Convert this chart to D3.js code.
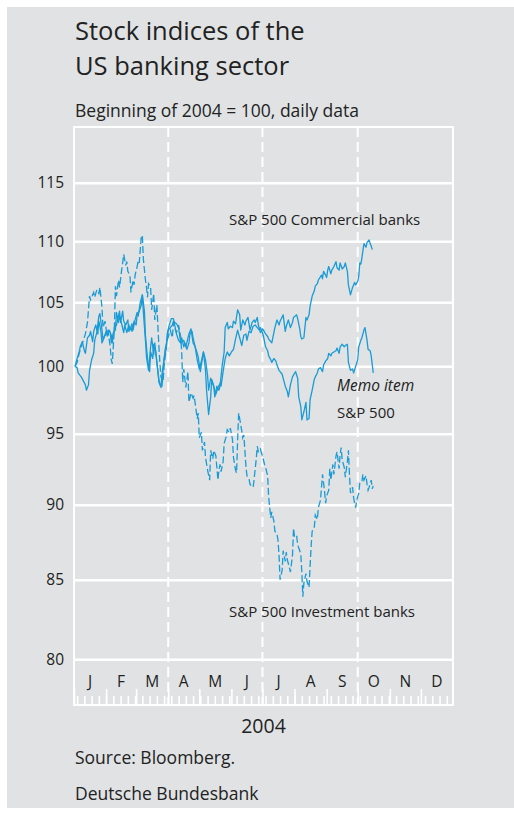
<!DOCTYPE html>
<html><head><meta charset="utf-8">
<script src="https://cdn.jsdelivr.net/npm/d3@7"></script>
<style>
body{margin:0;background:#fff}
svg{display:block}
text{font-family:"Open Sans",sans-serif;fill:#222}
</style>
</head><body>
<svg id="c" width="514" height="817"></svg>
<script>
// ---- data (Beginning of 2004 = 100) ----
const months = ["J","F","M","A","M","J","J","A","S","O","N","D"];
const yTicks = [80,85,90,95,100,105,110,115];
const quarterStarts = ["04-01","07-01","10-01"];

const commercialBanks = [
["01-02",100],["01-04",99.9],["01-05",99.5],["01-07",99.3],["01-08",99.2],["01-10",98.9],["01-12",98.6],["01-13",98.2],["01-15",98.6],["01-16",99.7],["01-18",100.5],["01-20",101],["01-21",102],["01-23",102.6],["01-25",103.9],["01-26",104.1],["01-28",102.8],["01-29",102.1],["01-31",102.4],
["02-02",102.6],["02-03",102.8],["02-05",102.6],["02-06",101.8],["02-08",102.6],["02-10",102.8],["02-11",104.2],["02-13",103.4],["02-14",103.9],["02-16",103.3],["02-18",102.6],["02-19",103.2],["02-21",102.6],["02-23",103.2],["02-24",102.8],["02-26",103.3],["02-27",102.8],["02-29",103.6],
["03-02",104.2],["03-03",103.9],["03-05",105],["03-07",105.6],["03-08",104.2],["03-10",102],["03-11",100.7],["03-13",99.7],["03-15",101.5],["03-16",102.2],["03-18",100.9],["03-19",101.8],["03-21",100.3],["03-23",99],["03-24",98.7],["03-26",98.5],["03-27",99.7],["03-29",101.3],["03-31",102],
["04-01",102.8],["04-03",103],["04-05",103.2],["04-06",103.5],["04-09",103.3],["04-11",103],["04-13",101.8],["04-14",102.2],["04-16",101.5],["04-17",101.8],["04-19",101.3],["04-21",101.8],["04-22",102.5],["04-24",102.7],["04-25",102.2],["04-27",101.5],["04-29",101],["04-30",100.7],
["05-02",99.6],["05-04",100.6],["05-05",101.1],["05-07",99.7],["05-08",98.2],["05-10",96.4],["05-12",97.7],["05-13",99],["05-15",98.5],["05-16",97.7],["05-18",98.5],["05-20",98.2],["05-21",98.5],["05-23",100],["05-25",101.1],["05-26",103],["05-28",103.4],["05-29",102.9],["05-31",103.1],
["06-02",103],["06-03",103.5],["06-05",103.3],["06-07",104.4],["06-09",104],["06-10",102.8],["06-12",103.6],["06-14",103.2],["06-15",103.5],["06-17",103.8],["06-18",103.3],["06-19",102.8],["06-21",103.4],["06-23",103.6],["06-24",103.4],["06-26",103.8],["06-27",103.2],["06-29",102.6],
["07-01",102.9],["07-02",102.8],["07-04",102.5],["07-06",102.3],["07-07",102.1],["07-09",101.9],["07-10",101.8],["07-13",103],["07-14",103.3],["07-15",103.6],["07-17",103.2],["07-18",103.5],["07-21",104],["07-23",102.7],["07-24",103.1],["07-26",103.6],["07-28",103],["07-30",103.4],["07-31",103.8],
["08-03",104],["08-04",103.7],["08-06",102.9],["08-07",102.3],["08-08",102.1],["08-10",102.2],["08-12",103.8],["08-13",103.6],["08-15",104],["08-16",104.7],["08-18",105.5],["08-20",105.9],["08-21",106.3],["08-23",106.5],["08-24",106.8],["08-27",107.2],["08-28",106.9],["08-29",107.5],["08-31",107.2],
["09-01",107],["09-02",107.6],["09-03",107.9],["09-05",107.3],["09-06",107.6],["09-08",107.9],["09-10",108.3],["09-11",107.8],["09-13",107.6],["09-14",108.2],["09-16",107.7],["09-18",107.9],["09-19",108.2],["09-21",107.5],["09-22",106.4],["09-24",105.6],["09-26",106.2],["09-27",106.4],["09-28",106.6],["09-29",106.4],
["10-01",106.7],["10-02",107.1],["10-03",108.2],["10-04",108.1],["10-05",108.6],["10-07",109.8],["10-09",109.5],["10-10",109.9],["10-12",110.1],["10-13",109.8],["10-14",109.6],["10-15",109.3]
];

const sp500 = [
["01-02",100],["01-04",100.6],["01-06",101.1],["01-07",101.5],["01-09",101.9],["01-11",101.2],["01-12",101],["01-14",102.2],["01-16",102.4],["01-17",102.7],["01-19",101.9],["01-20",102.7],["01-22",103.2],["01-24",102.5],["01-25",103.5],["01-27",102.7],["01-28",101.8],["01-30",102.2],
["02-01",102.7],["02-02",102.4],["02-04",102.8],["02-06",102.4],["02-07",101.8],["02-09",103],["02-11",103.2],["02-14",104.3],["02-15",103.4],["02-17",104.3],["02-18",103.5],["02-20",103.2],["02-22",103.6],["02-23",102.7],["02-25",103],["02-26",102.7],["02-28",103.5],
["03-01",103.2],["03-02",104],["03-04",104.3],["03-06",104.8],["03-07",105.6],["03-09",104.3],["03-10",102.4],["03-12",100.6],["03-14",99.6],["03-15",101.1],["03-17",100.6],["03-18",101.7],["03-20",101.1],["03-22",99.6],["03-23",98.8],["03-25",98.4],["03-26",99.4],["03-28",100.6],["03-30",101.4],["03-31",102.5],
["04-02",103.2],["04-04",103.7],["04-06",103.7],["04-09",102.5],["04-11",102],["04-13",101.8],["04-16",102],["04-18",101.5],["04-21",102.5],["04-23",102.9],["04-25",101.8],["04-27",101.5],["04-29",100.5],
["05-01",99.8],["05-03",100.4],["05-05",101.1],["05-07",100.5],["05-09",99.3],["05-10",98.2],["05-12",99.1],["05-14",98.7],["05-16",98.2],["05-17",97.9],["05-19",98.4],["05-21",98.7],["05-22",98.5],["05-24",99.6],["05-26",100.6],["05-28",101.1],["05-30",100.8],
["06-01",101.1],["06-03",101.3],["06-05",102.1],["06-07",102.8],["06-09",102.2],["06-11",101.6],["06-13",102.4],["06-15",102.5],["06-16",102],["06-18",102.7],["06-20",102.6],["06-22",103.1],["06-24",103.2],["06-26",103],["06-28",102.8],["06-29",103],
["07-01",102.6],["07-02",102.3],["07-04",101.5],["07-06",101.2],["07-07",100.8],["07-09",100.5],["07-10",100.3],["07-12",100.6],["07-14",100.4],["07-15",100.1],["07-17",99.7],["07-18",99.6],["07-20",99.4],["07-22",98.8],["07-23",98.5],["07-25",98.1],["07-26",97.7],["07-28",98.6],["07-29",98.9],["07-30",99.2],
["08-02",99.6],["08-04",99.1],["08-05",97.7],["08-07",97],["08-08",96],["08-10",96.6],["08-12",97.3],["08-13",96],["08-15",96.1],["08-16",97.5],["08-18",98.2],["08-20",99],["08-21",99.2],["08-23",99.5],["08-24",99.8],["08-26",99.9],["08-28",99.6],["08-29",100.1],["08-31",100.4],
["09-02",100.6],["09-03",101],["09-05",100.8],["09-06",101],["09-08",101.1],["09-10",101.2],["09-11",101.4],["09-13",101],["09-14",101.5],["09-16",101.7],["09-18",101.5],["09-19",101.6],["09-21",101.7],["09-22",100.3],["09-24",99.7],["09-26",99.8],["09-27",99.5],["09-29",100],
["10-01",100.5],["10-02",101.5],["10-04",102],["10-05",102.2],["10-07",102.8],["10-08",103],["10-10",102],["10-11",101.3],["10-13",101.2],["10-14",100.8],["10-16",99.5]
];

const investmentBanks = [
["01-02",100],["01-04",100.3],["01-06",101],["01-08",101.5],["01-10",102],["01-12",102.5],["01-14",103.4],["01-16",105.5],["01-17",105.2],["01-20",105.8],["01-21",105.4],["01-23",106],["01-25",105.7],["01-26",106.2],["01-28",104.6],["01-29",103],["01-31",103.5],
["02-02",102.3],["02-03",102.6],["02-05",101.5],["02-06",100.5],["02-07",100.2],["02-09",103],["02-10",106.3],["02-11",105.5],["02-13",106.8],["02-14",106.2],["02-16",107.6],["02-17",108.2],["02-18",108.9],["02-20",108],["02-21",108.3],["02-22",107.5],["02-24",107.2],["02-25",105.8],["02-27",106.8],["02-28",106.4],["02-29",107.2],
["03-02",107.9],["03-03",108.4],["03-04",108.2],["03-06",110.4],["03-07",110.5],["03-08",108.5],["03-10",106.8],["03-11",106.2],["03-12",105.4],["03-13",106.5],["03-15",106.2],["03-16",104.4],["03-18",105.7],["03-19",103.6],["03-21",104.8],["03-23",101.5],["03-24",100.2],["03-25",99.2],["03-27",98.8],["03-28",100],["03-29",100.7],["03-31",102],
["04-03",102.8],["04-05",102.2],["04-06",103.4],["04-08",102.8],["04-09",102.6],["04-11",103.2],["04-13",102.3],["04-14",101.1],["04-15",98.8],["04-16",99.8],["04-18",98.4],["04-20",99.6],["04-21",97.3],["04-23",98],["04-25",97.6],["04-26",97.8],["04-29",96.1],["04-30",96.5],
["05-01",94.7],["05-03",95.1],["05-04",93.8],["05-06",94.4],["05-07",93.3],["05-09",92.4],["05-11",91.7],["05-12",93.8],["05-14",93.2],["05-15",93.8],["05-17",93.4],["05-19",91.7],["05-20",92.4],["05-21",92.8],["05-22",92.3],["05-24",93],["05-25",94.3],["05-27",94.8],["05-28",95.3],["05-30",95.1],["05-31",95.4],
["06-02",94.6],["06-03",93.3],["06-05",92.4],["06-06",92.2],["06-07",94.5],["06-08",96.5],["06-09",96.1],["06-11",95.2],["06-12",94.7],["06-13",94.9],["06-14",93.8],["06-15",92.7],["06-16",92],["06-18",91.8],["06-19",91.4],["06-22",91.2],["06-23",91.8],["06-25",93.2],["06-26",94.1],["06-27",93.7],["06-29",93.9],["06-30",93.6],
["07-01",93.4],["07-03",92.8],["07-04",92.6],["07-06",92],["07-07",90.5],["07-09",89.1],["07-10",89.5],["07-12",88.9],["07-13",88.2],["07-15",88],["07-16",87.6],["07-17",86.6],["07-18",85],["07-20",85.6],["07-21",86.9],["07-23",86.2],["07-24",86.8],["07-25",86.3],["07-27",85.8],["07-28",85.5],["07-30",86.6],["07-31",88.4],
["08-01",87.8],["08-03",87.9],["08-04",87.3],["08-05",87.1],["08-07",86.7],["08-08",85.5],["08-09",83.9],["08-10",84.8],["08-12",85.4],["08-13",84.9],["08-15",84.5],["08-16",85.9],["08-17",87.2],["08-18",88.2],["08-20",88.4],["08-21",89.3],["08-23",89],["08-24",89.8],["08-26",90.3],["08-27",91.2],["08-28",92.1],["08-30",90.9],["08-31",90.1],
["09-01",90.6],["09-03",91],["09-04",92.5],["09-05",91.7],["09-07",92.8],["09-08",92.1],["09-10",93.4],["09-11",93.7],["09-13",92.5],["09-14",93.5],["09-15",94],["09-16",93.1],["09-18",92.6],["09-19",91.9],["09-21",93],["09-22",93.8],["09-23",92.1],["09-24",90.8],["09-26",91.2],["09-27",90.5],["09-28",90.1],["09-29",89.8],["09-30",90.3],
["10-02",90.8],["10-03",91.5],["10-05",91.6],["10-06",92.1],["10-07",91.7],["10-09",92],["10-10",91.4],["10-11",91],["10-12",91.2],["10-14",91.7],["10-15",91.1],["10-16",91.3]
];

// ---- drawing ----
(function () {
const parse = d3.timeParse("%Y-%m-%d");
const toPts = arr => arr.map(([d, v]) => ({date: parse("2004-" + d), value: v}));

const svg = d3.select("#c");
const pLeft = 74, pRight = 453, pTop = 127, pBottom = 705, y80 = 659.3;
const blue = "#189bd6";

svg.append("rect").attr("x", 7).attr("y", 7).attr("width", 507).attr("height", 801).attr("fill", "#e1e2e4");

const x = d3.scaleTime().domain([new Date(2004,0,1), new Date(2005,0,1)]).range([pLeft, pRight]);
const y = d3.scaleLog().domain([80,120]).range([y80, pTop]);

// title
svg.append("text").attr("x", 75).attr("y", 40).attr("font-size", 25.5).text("Stock indices of the");
svg.append("text").attr("x", 75).attr("y", 75).attr("font-size", 25.5).text("US banking sector");
svg.append("text").attr("x", 75).attr("y", 117).attr("font-size", 17.5).text("Beginning of 2004 = 100, daily data");

// horizontal grid + y labels
const yAxis = svg.append("g").attr("transform", `translate(${pLeft},0)`)
  .call(d3.axisLeft(y).tickValues(yTicks).tickFormat(d3.format("d")).tickSize(-(pRight-pLeft)).tickPadding(10));
yAxis.select(".domain").remove();
yAxis.selectAll(".tick line").attr("stroke", "#fff").attr("stroke-width", 2.5);
yAxis.selectAll(".tick text").attr("font-size", 15.5).attr("font-family", "Open Sans").attr("fill", "#222");

// quarter separators (dashed)
svg.append("g").selectAll("line").data(quarterStarts.map(s => parse("2004-" + s))).join("line")
  .attr("x1", d => x(d)).attr("x2", d => x(d)).attr("y1", pTop).attr("y2", pBottom)
  .attr("stroke", "#fff").attr("stroke-width", 2).attr("stroke-dasharray", "10,5");

// frame
svg.append("rect").attr("x", pLeft).attr("y", pTop).attr("width", pRight-pLeft).attr("height", pBottom-pTop)
  .attr("fill", "none").attr("stroke", "#fff").attr("stroke-width", 2);

// weekly ticks and month ticks along the bottom
const start = new Date(2004,0,1), end = new Date(2005,0,1);
const wk = svg.append("g").attr("transform", `translate(0,${pBottom})`)
  .call(d3.axisTop(x).tickValues(d3.timeSunday.range(start, end)).tickSize(9).tickFormat(""));
wk.select(".domain").remove();
wk.selectAll(".tick line").attr("stroke", "#fff").attr("stroke-width", 1.6);
const mt = svg.append("g").attr("transform", `translate(0,${pBottom})`)
  .call(d3.axisTop(x).tickValues(d3.timeMonth.range(start, end)).tickSize(16).tickFormat(""));
mt.select(".domain").remove();
mt.selectAll(".tick line").attr("stroke", "#fff").attr("stroke-width", 1.6);

// month labels
svg.append("g").selectAll("text").data(d3.timeMonth.range(start, end)).join("text")
  .attr("x", d => (x(d) + x(d3.timeMonth.offset(d, 1))) / 2)
  .attr("y", 687).attr("text-anchor", "middle").attr("font-size", 15.5)
  .text((d, i) => months[i]);

// series
const line = d3.line().x(d => x(d.date)).y(d => y(d.value));
svg.append("path").datum(toPts(sp500)).attr("d", line)
  .attr("fill", "none").attr("stroke", blue).attr("stroke-width", 1.3).attr("stroke-linejoin", "round");
svg.append("path").datum(toPts(commercialBanks)).attr("d", line)
  .attr("fill", "none").attr("stroke", blue).attr("stroke-width", 1.3).attr("stroke-linejoin", "round");
svg.append("path").datum(toPts(investmentBanks)).attr("d", line)
  .attr("fill", "none").attr("stroke", blue).attr("stroke-width", 1.3).attr("stroke-dasharray", "7,3");

// series labels
svg.append("text").attr("x", 229).attr("y", 225).attr("font-size", 15).text("S&P 500 Commercial banks");
svg.append("text").attr("x", 337).attr("y", 391).attr("font-size", 15.5).attr("font-style", "italic").text("Memo item");
svg.append("text").attr("x", 337).attr("y", 418).attr("font-size", 15).text("S&P 500");
svg.append("text").attr("x", 229).attr("y", 617).attr("font-size", 15).text("S&P 500 Investment banks");

// footer
svg.append("text").attr("x", (pLeft+pRight)/2).attr("y", 733).attr("text-anchor", "middle").attr("font-size", 19.5).text("2004");
svg.append("text").attr("x", 75).attr("y", 764).attr("font-size", 17.5).text("Source: Bloomberg.");
svg.append("text").attr("x", 75).attr("y", 800).attr("font-size", 17.5).text("Deutsche Bundesbank");
})();
</script>
</body></html>
